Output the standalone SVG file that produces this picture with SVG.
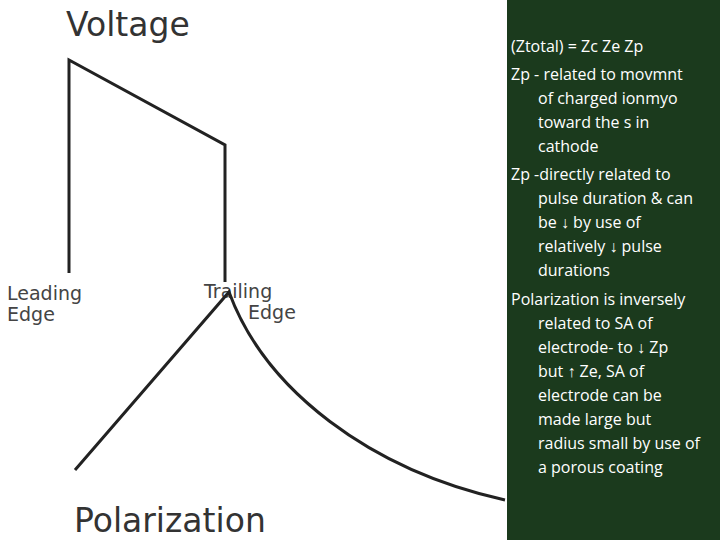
<svg xmlns="http://www.w3.org/2000/svg" width="720" height="540" viewBox="0 0 720 540">
<style>
.big{font-family:"DejaVu Sans","Liberation Sans",sans-serif;font-size:33px;fill:#333}
.lab{font-family:"DejaVu Sans","Liberation Sans",sans-serif;font-size:19px;fill:#444}
.t{font-family:"Open Sans","Liberation Sans",sans-serif;font-size:16px;fill:#fff}
.w{fill:none;stroke:#222;stroke-width:3}
</style>
<rect width="720" height="540" fill="#fff"/>
<rect x="507" y="0" width="213" height="540" fill="#1b3a1d"/>
<g id="labels">
<text class="big" x="66" y="36">Voltage</text>
<text class="big" x="74" y="532">Polarization</text>
<text class="lab" x="7" y="300">Leading</text>
<text class="lab" x="7" y="321">Edge</text>
<text class="lab" x="204" y="298">Trailing</text>
<text class="lab" x="248" y="319">Edge</text>
</g>
<g id="waves">
<polyline class="w" points="69,273 69,60 225,145 225,282"/>
<path class="w" d="M75,470 L229,292 C265,390 370,470 505,500"/>
</g>
<g id="notes">
<text class="t" x="511" y="52">(Ztotal) = Zc Ze Zp</text>
<text class="t" x="511" y="80">Zp -  related to movmnt</text>
<text class="t" x="538" y="104">of charged ionmyo</text>
<text class="t" x="538" y="128">toward the s in</text>
<text class="t" x="538" y="152">cathode</text>
<text class="t" x="511" y="180">Zp -directly related to</text>
<text class="t" x="538" y="204">pulse duration &amp; can</text>
<text class="t" x="538" y="228">be ↓ by use of</text>
<text class="t" x="538" y="252">relatively ↓ pulse</text>
<text class="t" x="538" y="276">durations</text>
<text class="t" x="511" y="305">Polarization is inversely</text>
<text class="t" x="538" y="329">related to SA of</text>
<text class="t" x="538" y="353">electrode- to ↓ Zp</text>
<text class="t" x="538" y="377">but ↑ Ze, SA of</text>
<text class="t" x="538" y="401">electrode can be</text>
<text class="t" x="538" y="425">made large but</text>
<text class="t" x="538" y="449">radius small by use of</text>
<text class="t" x="538" y="473">a porous coating</text>
</g>
</svg>
